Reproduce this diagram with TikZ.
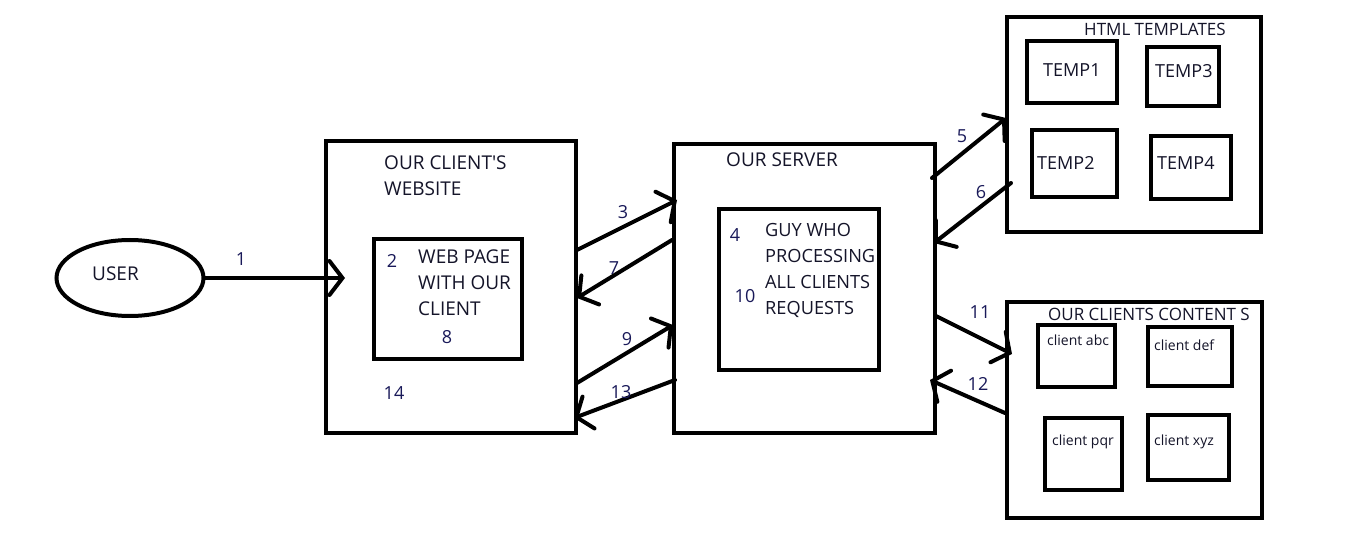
\documentclass[tikz,border=0pt]{standalone}
\usepackage{fontspec}
\setmainfont{Open Sans}
\usetikzlibrary{arrows.meta,shapes.geometric}
\definecolor{txt}{rgb}{0.08,0.08,0.16}
\definecolor{numc}{rgb}{0.1,0.1,0.35}
\begin{document}
\begin{tikzpicture}[x=1pt,y=-1pt,
 box/.style={draw, line width=4pt, inner sep=0pt},
 lbl/.style={inner sep=0pt, anchor=west, text=txt, font=\fontsize{19}{26}\selectfont, align=left},
 sml/.style={inner sep=0pt, anchor=west, text=txt, font=\fontsize{14}{18}\selectfont},
 num/.style={inner sep=0pt, text=numc, font=\fontsize{18}{22}\selectfont},
 conn/.style={line width=4pt, line cap=round, -{Straight Barb[length=13pt,width=34pt,line cap=round]}},
]
\fill[white] (0,0) rectangle (1347,545);
\useasboundingbox (0,0) rectangle (1347,545);

% user
\node[draw, ellipse, line width=4pt, minimum width=147pt, minimum height=76pt] (user) at (130,278) {};
\node[lbl] (usert) at (92,274) {USER};

% client website
\node[box, minimum width=250pt, minimum height=292pt] (site) at (451,287) {};
\node[lbl] (sitet) at (384,176) {OUR CLIENT\textquotesingle S\\WEBSITE};
\node[box, minimum width=148pt, minimum height=120pt] (web) at (448,299) {};
\node[lbl] (webt) at (418,283) {WEB PAGE\\WITH OUR\\CLIENT};
\node[num] (n2) at (392,261) {2};
\node[num] (n8) at (447,337) {8};
\node[num] (n14) at (394,393) {14};

% server
\node[box, minimum width=261pt, minimum height=289pt] (server) at (804.5,288.5) {};
\node[lbl] (servert) at (726,160) {OUR SERVER};
\node[box, minimum width=160pt, minimum height=161pt] (guy) at (799,289.5) {};
\node[lbl, font=\fontsize{18.2}{26}\selectfont] (guyt) at (765,270) {GUY WHO\\PROCESSING\\ALL CLIENTS\\REQUESTS};
\node[num] (n4) at (735,235) {4};
\node[num] (n10) at (745,296) {10};

% html templates
\node[box, minimum width=254pt, minimum height=215pt] (html) at (1134,124.5) {};
\node[lbl, font=\fontsize{17}{20}\selectfont] (htmlt) at (1084,29) {HTML TEMPLATES};
\node[box, minimum width=90pt, minimum height=62pt] (t1) at (1072,72) {};
\node[box, minimum width=72pt, minimum height=59pt] (t3) at (1183,76.5) {};
\node[box, minimum width=85pt, minimum height=67pt] (t2) at (1074.5,163.5) {};
\node[box, minimum width=80pt, minimum height=63pt] (t4) at (1191,167.5) {};
\node[lbl, font=\fontsize{18}{20}\selectfont] (t1t) at (1043,70) {TEMP1};
\node[lbl, font=\fontsize{18}{20}\selectfont] (t3t) at (1155,71) {TEMP3};
\node[lbl, font=\fontsize{18}{20}\selectfont] (t2t) at (1037,163) {TEMP2};
\node[lbl, font=\fontsize{18}{20}\selectfont] (t4t) at (1157,163) {TEMP4};

% clients content
\node[box, minimum width=255pt, minimum height=216pt] (clients) at (1134.5,410) {};
\node[lbl, font=\fontsize{17}{20}\selectfont] (clientst) at (1048,314) {OUR CLIENTS CONTENT S};
\node[box, minimum width=77pt, minimum height=62pt] (abc) at (1076.5,356) {};
\node[box, minimum width=84pt, minimum height=59pt] (def) at (1190,356.5) {};
\node[box, minimum width=77pt, minimum height=72pt] (pqr) at (1083.5,454) {};
\node[box, minimum width=81pt, minimum height=65pt] (xyz) at (1188.5,447.5) {};
\node[sml] (abct) at (1047,340) {client abc};
\node[sml] (deft) at (1154,345) {client def};
\node[sml] (pqrt) at (1052,442) {client pqr};
\node[sml] (xyzt) at (1154,442) {client xyz};

% connector end points
\coordinate (e1) at (345,278);
\coordinate (s3) at (577,250); \coordinate (e3) at (677,200);
\coordinate (s7) at (672,240); \coordinate (e7) at (577,298);
\coordinate (s9) at (577,383); \coordinate (e9) at (673,325);
\coordinate (s13) at (675,380); \coordinate (e13) at (574,418);
\coordinate (s5) at (932,178); \coordinate (e5) at (1006,118);
\coordinate (s6) at (1011,183); \coordinate (e6) at (934,243);
\coordinate (s11) at (936,316); \coordinate (e11) at (1012,354);
\coordinate (s12) at (1005,413); \coordinate (e12) at (930,380);

\draw[conn] (user.east) -- (e1);
\draw[conn] (s3) -- (e3);
\draw[conn] (s7) -- (e7);
\draw[conn] (s9) -- (e9);
\draw[conn] (s13) -- (e13);
\draw[conn] (s5) -- (e5);
\draw[conn] (s6) -- (e6);
\draw[conn] (s11) -- (e11);
\draw[conn] (s12) -- (e12);

\node[num] (n1) at (241,259) {1};
\node[num] (n3) at (623,212) {3};
\node[num] (n7) at (614,268) {7};
\node[num] (n9) at (627,339) {9};
\node[num] (n13) at (621,392) {13};
\node[num] (n5) at (962,136) {5};
\node[num] (n6) at (981,192) {6};
\node[num] (n11) at (980,312) {11};
\node[num] (n12) at (978,384) {12};
\end{tikzpicture}
\end{document}
